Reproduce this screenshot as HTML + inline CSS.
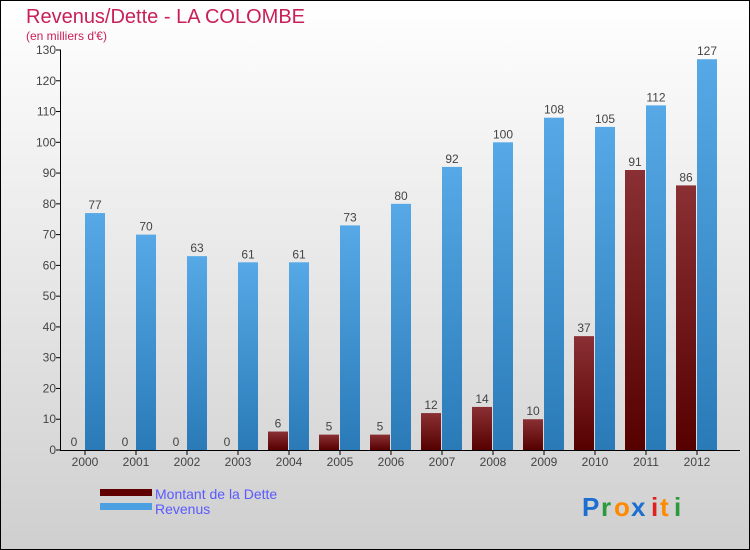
<!DOCTYPE html>
<html><head><meta charset="utf-8"><style>
body{margin:0}
#c{width:750px;height:550px;position:relative;overflow:hidden}
text{font-family:"Liberation Sans",sans-serif}
</style></head><body>
<div id="c">
<svg id="s" width="750" height="550" xmlns="http://www.w3.org/2000/svg">
<defs>
<linearGradient id="bg" x1="0" y1="0" x2="0" y2="1"><stop offset="0" stop-color="#ffffff"/><stop offset="1" stop-color="#cfcfcf"/></linearGradient>
<linearGradient id="gr" x1="0" y1="0" x2="0" y2="1"><stop offset="0" stop-color="#8a3034"/><stop offset="1" stop-color="#560000"/></linearGradient>
<linearGradient id="gb" x1="0" y1="0" x2="0" y2="1"><stop offset="0" stop-color="#56a9e6"/><stop offset="1" stop-color="#2a7ab8"/></linearGradient>
</defs>
<rect x="0.5" y="0.5" width="749" height="549" fill="url(#bg)" stroke="#000"/>
<text x="26" y="23" font-size="20" fill="#c8205a">Revenus/Dette - LA COLOMBE</text>
<text x="26" y="40" font-size="12" fill="#c8205a">(en milliers d'€)</text>
<g id="plot"></g>
<rect x="100" y="489" width="52" height="7" fill="#600000"/>
<rect x="100" y="503" width="52" height="7" fill="#4aa0e0"/>
<text x="155" y="499" font-size="14" fill="#5a5aff">Montant de la Dette</text>
<text x="155" y="514" font-size="14" fill="#5a5aff">Revenus</text>
<g font-size="26" font-weight="bold">
<text x="582" y="516" fill="#1a6fd0">P</text><text x="601" y="516" fill="#2a9a3a">r</text><text x="614" y="516" fill="#ff8a00">o</text><text x="631" y="516" fill="#1a6fd0">x</text><text x="651" y="516" fill="#e02020">i</text><text x="660" y="516" fill="#ff8a00">t</text><text x="674" y="516" fill="#2a9a3a">i</text>
</g>
</svg>
</div>
<script>
const years=["2000","2001","2002","2003","2004","2005","2006","2007","2008","2009","2010","2011","2012"];
const dette=[0,0,0,0,6,5,5,12,14,10,37,91,86];
const revenus=[77,70,63,61,61,73,80,92,100,108,105,112,127];
const yTicks=[0,10,20,30,40,50,60,70,80,90,100,110,120,130];
const NS="http://www.w3.org/2000/svg";
const g=document.getElementById('plot');
const y=v=>450-v*400/130;
const xc=i=>85+51*i;
function mk(t,a,txt){const e=document.createElementNS(NS,t);for(const k in a)e.setAttribute(k,a[k]);if(txt!=null)e.textContent=txt;g.appendChild(e);return e;}
yTicks.forEach(v=>{
 const l=mk('line',{x1:56,x2:61,y1:y(v),y2:y(v),stroke:'#000'});
 
 
 const t=mk('text',{x:56,y:y(v)+4,'font-size':12,fill:'#444','text-anchor':'end'},v);
 
 
});
years.forEach((yr,i)=>{
 const c=xc(i);
 const b1=mk('rect',{x:c-21,y:y(dette[i]),width:20,height:450-y(dette[i]),fill:'url(#gr)'});
 
 
 const b2=mk('rect',{x:c,y:y(revenus[i]),width:20,height:450-y(revenus[i]),fill:'url(#gb)'});
 
 
 const t1=mk('text',{x:c-11,y:y(dette[i])-4,'font-size':12,fill:'#444','text-anchor':'middle'},dette[i]);
 
 
 const t2=mk('text',{x:c+10,y:y(revenus[i])-4,'font-size':12,fill:'#444','text-anchor':'middle'},revenus[i]);
 
 
 const tk=mk('line',{x1:c,x2:c,y1:450,y2:455,stroke:'#000'});
 
 
 const xl=mk('text',{x:c,y:466,'font-size':12,fill:'#444','text-anchor':'middle'},yr);
 
 
});
const ya=mk('line',{x1:60.5,x2:60.5,y1:y(130),y2:450,stroke:'#000'});


const xa=mk('line',{x1:60,x2:740,y1:450.5,y2:450.5,stroke:'#000'});


</script>
</body></html>
